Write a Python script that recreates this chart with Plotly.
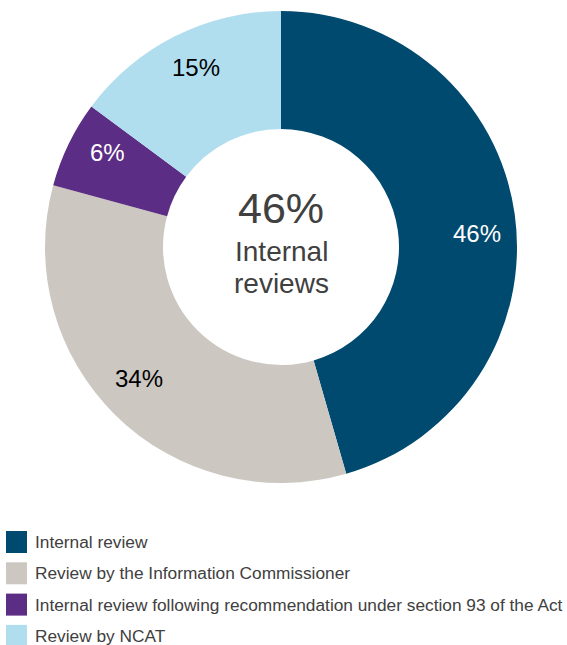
import math
import plotly.graph_objects as go

# Review types and their share of all reviews (%)
labels = [
    "Internal review",
    "Review by the Information Commissioner",
    "Internal review following recommendation under section 93 of the Act",
    "Review by NCAT",
]
shares = [46, 34, 6, 15]
colors = ["#004A6F", "#CCC8C1", "#5C2D84", "#B0DEEE"]
text_colors = ["#FFFFFF", "#000000", "#FFFFFF", "#000000"]

W, H = 567, 645
FONT = "Liberation Sans, Arial, sans-serif"

# Donut geometry in pixels
CX, CY, R = 281, 247, 236
LABEL_R = 196
LABEL_LIFT = 3
label_nudge_deg = [5, 2, 2, 1]

fig = go.Figure()
fig.add_trace(go.Pie(
    labels=labels,
    values=shares,
    hole=0.5,
    sort=False,
    direction="clockwise",
    rotation=0,
    marker=dict(colors=colors, line=dict(width=0)),
    textinfo="none",
    showlegend=False,
    domain=dict(x=[(CX - R) / W, (CX + R) / W], y=[1 - (CY + R) / H, 1 - (CY - R) / H]),
))

# Value labels at the middle of each slice, out towards the rim
total = sum(shares)
cum = 0
for v, tc, nudge in zip(shares, text_colors, label_nudge_deg):
    mid = (cum + v / 2) / total * 360 + nudge
    cum += v
    px = CX + LABEL_R * math.sin(math.radians(mid))
    py = CY - LABEL_R * math.cos(math.radians(mid)) - LABEL_LIFT
    fig.add_annotation(x=px / W, y=1 - py / H, xref="paper", yref="paper",
                       text=f"{v}%", showarrow=False,
                       xanchor="center", yanchor="middle",
                       font=dict(family=FONT, size=24, color=tc))

# Centre caption
fig.add_annotation(x=CX / W, y=1 - 208 / H, xref="paper", yref="paper",
                   text=f"{shares[0]}%", showarrow=False,
                   xanchor="center", yanchor="middle",
                   font=dict(family=FONT, size=43, color="#404040"))
for line, yc in (("Internal", 251), ("reviews", 283)):
    fig.add_annotation(x=CX / W, y=1 - yc / H, xref="paper", yref="paper",
                       text=line, showarrow=False,
                       xanchor="center", yanchor="middle",
                       font=dict(family=FONT, size=28, color="#404040"))

# Legend drawn as swatches with labels
for i, (lab, col) in enumerate(zip(labels, colors)):
    yc = 542 + i * 31.3
    fig.add_shape(type="rect", xref="paper", yref="paper",
                  x0=6 / W, x1=27 / W,
                  y0=1 - (yc + 11) / H, y1=1 - (yc - 11) / H,
                  fillcolor=col, line=dict(width=0))
    fig.add_annotation(x=33 / W, y=1 - yc / H, xref="paper", yref="paper",
                       text=lab, showarrow=False, xanchor="left", yanchor="middle",
                       font=dict(family=FONT, size=17.3, color="#404040"))

fig.update_layout(
    width=W, height=H,
    margin=dict(l=0, r=0, t=0, b=0),
    paper_bgcolor="white",
    plot_bgcolor="white",
)

fig.write_html("out.html")
